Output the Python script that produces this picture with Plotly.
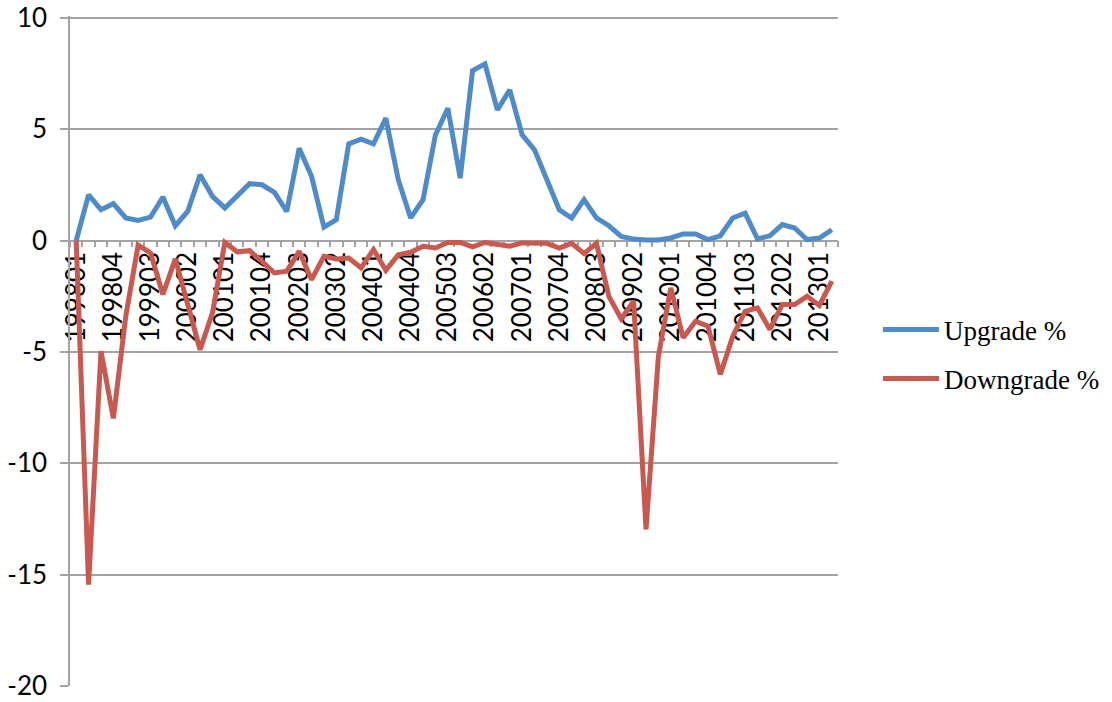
import plotly.graph_objects as go

# trimestres 1998 Q1 -> 2013 Q2
trimestres = [f"{annee}0{q}" for annee in range(1998, 2014) for q in range(1, 5)][:62]

# valeurs (en %)
upgrade = [0.0, 2.06, 1.39, 1.66, 1.02, 0.91, 1.06, 1.96, 0.67, 1.31,
           2.96, 1.99, 1.47, 1.99, 2.56, 2.51, 2.17, 1.31, 4.15, 2.89,
           0.61, 0.94, 4.35, 4.56, 4.35, 5.50, 2.74, 1.02, 1.84, 4.75,
           5.95, 2.81, 7.64, 7.94, 5.87, 6.77, 4.75, 4.08, 2.66, 1.39,
           1.02, 1.84, 1.02, 0.67, 0.19, 0.07, 0.03, 0.03, 0.12, 0.30,
           0.30, 0.05, 0.22, 1.02, 1.24, 0.08, 0.22, 0.72, 0.57, 0.05,
           0.12, 0.49]

downgrade = [0.0, -15.45, -4.96, -7.98, -3.4, -0.2, -0.55, -2.42, -0.82, -2.9,
             -4.9, -3.24, -0.08, -0.5, -0.45, -0.93, -1.45, -1.37, -0.48, -1.75,
             -0.70, -0.82, -0.78, -1.22, -0.40, -1.33, -0.63, -0.52, -0.25, -0.33,
             -0.08, -0.08, -0.28, -0.08, -0.18, -0.25, -0.10, -0.12, -0.12, -0.33,
             -0.12, -0.58, -0.12, -2.5, -3.51, -2.72, -12.96, -5.19, -2.12, -4.36,
             -3.62, -3.84, -6.01, -4.3, -3.17, -3.02, -3.99, -2.87, -2.87, -2.50,
             -2.91, -1.82]

# axe vertical : tirets simples comme dans Excel
y_ticks = [10, 5, 0, -5, -10, -15, -20]
y_labels = ["10", "5", "0", "-5", "-10", "-15", "-20"]

# une étiquette sur trois, comme dans Excel
etiquettes = [t if i % 3 == 0 else "" for i, t in enumerate(trimestres)]

gris = "#A3A3A3"

fig = go.Figure()
fig.add_trace(go.Scatter(x=trimestres, y=upgrade, mode="lines", name="Upgrade %",
                         legendgroup="up", line=dict(color="#4F8BC9", width=5)))
fig.add_trace(go.Scatter(x=trimestres, y=downgrade, mode="lines", name="Downgrade %",
                         legendgroup="down", line=dict(color="#C9584F", width=5)))

# plotly cache la grille à moins d'1 px du bord : on monte un peu le haut de l'axe
y_haut = 10.09
fig.update_layout(
    width=1112, height=702,
    margin=dict(l=70, r=274, t=16, b=16, autoexpand=False),
    plot_bgcolor="white", paper_bgcolor="white",
    font=dict(family="Lato", size=26, color="black"),
    showlegend=True,
    legend=dict(x=1.052, y=0.495, xanchor="left", yanchor="middle",
                font=dict(family="Liberation Serif", size=27),
                itemwidth=56, tracegroupgap=11),
    xaxis=dict(
        type="category", range=[-0.5, 61.5],
        tickmode="array", tickvals=trimestres, ticktext=etiquettes,
        tickangle=-90, tickson="boundaries",
        ticks="outside", ticklen=6, tickwidth=1.5, tickcolor=gris,
        showline=True, linecolor=gris, linewidth=1.5,
        showgrid=False, anchor="free", position=20 / (20 + y_haut),
        layer="below traces", automargin=False,
    ),
    yaxis=dict(
        range=[-20, y_haut],
        tickmode="array", tickvals=y_ticks, ticktext=y_labels,
        showgrid=True, gridcolor=gris, gridwidth=1.5,
        showline=True, linecolor=gris, linewidth=1.5,
        ticks="outside", ticklen=8, tickwidth=1.5, tickcolor=gris,
        zeroline=False, ticklabelstandoff=8, automargin=False,
        ticklabeloverflow="allow",
    ),
)

# pas de marge de page autour de la figure
fig.write_html("out.html", config={"displayModeBar": False},
               post_script="document.body.style.margin = '0px';")
